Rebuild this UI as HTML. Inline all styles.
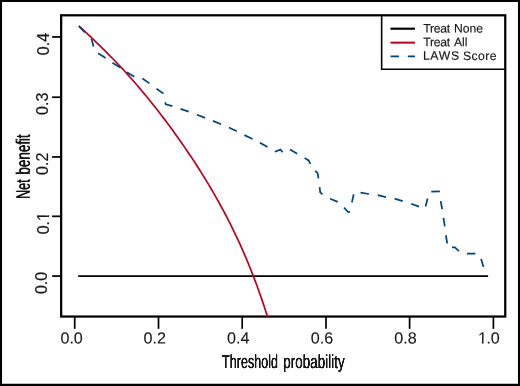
<!DOCTYPE html>
<html lang="en"><head><meta charset="utf-8"><title>Decision curve</title>
<style>
html,body{margin:0;padding:0;background:#fff}
svg{display:block;will-change:transform}
text{font-family:"Liberation Sans",Arial,Helvetica,sans-serif;fill:#1a1a1a}
</style></head><body>
<svg width="520" height="386" viewBox="0 0 520 386">
<defs><filter id="hb" x="-5%" y="-15%" width="110%" height="130%" color-interpolation-filters="sRGB"><feGaussianBlur stdDeviation="0.5 0"/><feComponentTransfer><feFuncA type="linear" slope="2" intercept="-0.12"/></feComponentTransfer></filter></defs>
<rect x="0" y="0" width="520" height="386" fill="#fff"/>
<!-- outer frame -->
<rect x="0" y="0" width="520" height="2" fill="#000"/>
<rect x="0" y="0" width="2.05" height="386" fill="#000"/>
<rect x="517.95" y="0" width="2.05" height="386" fill="#000"/>
<rect x="0" y="383.75" width="520" height="2.25" fill="#000"/>
<!-- plot box -->
<rect x="61.15" y="15.3" width="444.1" height="301.25" fill="none" stroke="#000" stroke-width="2.25"/>
<!-- curves -->
<line x1="78.2" y1="276.15" x2="488.1" y2="276.15" stroke="#000" stroke-width="1.8"/>
<clipPath id="pc"><rect x="61" y="15" width="444" height="302.25"/></clipPath>
<path d="M78.90,25.90 L81.31,28.11 L83.72,30.37 L86.13,32.64 L88.54,34.91 L90.94,37.19 L93.35,39.48 L95.76,41.79 L98.17,44.11 L100.58,46.45 L102.99,48.81 L105.40,51.19 L107.81,53.60 L110.22,56.03 L112.62,58.49 L115.03,60.98 L117.44,63.50 L119.85,66.05 L122.26,68.63 L124.67,71.24 L127.08,73.89 L129.49,76.56 L131.89,79.28 L134.30,82.02 L136.71,84.80 L139.12,87.61 L141.53,90.46 L143.94,93.34 L146.35,96.25 L148.76,99.20 L151.17,102.18 L153.57,105.20 L155.98,108.25 L158.39,111.34 L160.80,114.46 L163.21,117.61 L165.62,120.80 L168.03,124.02 L170.44,127.28 L172.85,130.58 L175.25,133.91 L177.66,137.28 L180.07,140.69 L182.48,144.14 L184.89,147.63 L187.30,151.16 L189.71,154.74 L192.12,158.36 L194.53,162.02 L196.93,165.74 L199.34,169.51 L201.75,173.33 L204.16,177.21 L206.57,181.15 L208.98,185.15 L211.39,189.22 L213.80,193.35 L216.21,197.57 L218.61,201.86 L221.02,206.24 L223.43,210.70 L225.84,215.26 L228.25,219.92 L230.66,224.69 L233.07,229.57 L235.48,234.57 L237.88,239.70 L240.29,244.96 L242.70,250.37 L245.11,255.92 L247.52,261.64 L249.93,267.53 L252.34,273.60 L254.75,279.85 L257.16,286.31 L259.56,292.99 L261.97,299.88 L264.38,307.02 L266.79,314.40 L269.20,322.04" fill="none" stroke="#BC0020" stroke-width="1.7" clip-path="url(#pc)"/>
<path d="M78.8,26.1 L84.8,32.3 M90.8,39.3 L91.8,39.8 L93.5,46.5 M98.1,53.3 L105.6,57.95 M112.4,62.8 L120.2,67.6 M126.9,72.3 L134.3,76.7 M142.4,78.5 L149.5,83.4 M156.5,88.75 L163.5,93.6 M165.1,102.4 L165.8,104.25 L172.4,106.05 M180.5,108.9 L188.7,111.65 M197,114.7 L205.1,117.9 M212.9,120.9 L221.1,124.2 M228.9,127.5 L236.8,131.2 M244.4,135.1 L252.6,139 M259.9,142.8 L267.5,147.05 M274.8,151.7 L280.5,149.6 L282.6,152.2 M290,149.4 L297.25,153.65 M304.6,158.1 L308.6,160.4 L310.4,163.9 M315.2,170.85 L317.65,173.2 L318.5,178.45 M319.6,187.1 L320.2,192.4 L322.5,194.4 M330.1,198.8 L337.75,201.85 M344,207.7 L348.4,212.3 L350,211.5 M351.9,202.4 L353.7,194.3 M360.5,192.6 L369,194 M377.8,195.2 L386,197.15 M394.6,198.6 L402.7,201.2 M411.2,203.7 L419.05,206.6 M425.6,206.4 L427.6,198.5 M431.3,191.7 L439.85,191.3 M440.65,201.1 L442.2,209.2 M443.45,217.95 L444.8,226.3 M445.9,235.25 L447.15,243.4 M452,247.4 L454.9,247.4 L459,251.2 M466.9,253.6 L475.3,253.6 M481.1,259 L483.5,267" fill="none" stroke="#00467F" stroke-width="1.75" stroke-linejoin="miter"/>
<!-- legend -->
<path d="M381.65,15.3 V69.3 H505.3" fill="none" stroke="#000" stroke-width="1.6"/>
<line x1="390.5" y1="28.7" x2="415" y2="28.7" stroke="#000" stroke-width="2.2"/>
<line x1="390.5" y1="42.65" x2="415" y2="42.65" stroke="#BC0020" stroke-width="2"/>
<path d="M390.5,56.35 H399 M407.8,56.35 H415" stroke="#00467F" stroke-width="1.75"/>
<g font-size="12.2" stroke="#1a1a1a" stroke-width="0.15">
<text transform="translate(423.2 32.5) rotate(0.05)"><tspan x="0" textLength="26.9" lengthAdjust="spacing">Treat</tspan> <tspan x="30.8">None</tspan></text>
<text transform="translate(423.2 46.3) rotate(0.05)"><tspan x="0" textLength="26.9" lengthAdjust="spacing">Treat</tspan> <tspan x="30.7">All</tspan></text>
<text transform="translate(422.9 59.85) rotate(0.05)"><tspan x="0" textLength="36.2" lengthAdjust="spacing">LAWS</tspan> <tspan x="40.05" textLength="33.5" lengthAdjust="spacing">Score</tspan></text>
</g>

<line x1="74.7" y1="317" x2="74.7" y2="328.85" stroke="#000" stroke-width="1.7"/>
<line x1="158.5" y1="317" x2="158.5" y2="328.85" stroke="#000" stroke-width="1.7"/>
<line x1="242.2" y1="317" x2="242.2" y2="328.85" stroke="#000" stroke-width="1.7"/>
<line x1="326.0" y1="317" x2="326.0" y2="328.85" stroke="#000" stroke-width="1.7"/>
<line x1="409.6" y1="317" x2="409.6" y2="328.85" stroke="#000" stroke-width="1.7"/>
<line x1="493.4" y1="317" x2="493.4" y2="328.85" stroke="#000" stroke-width="1.7"/>
<line x1="52.1" y1="276.07" x2="60.5" y2="276.07" stroke="#000" stroke-width="1.75"/>
<line x1="52.1" y1="216.32" x2="60.5" y2="216.32" stroke="#000" stroke-width="1.75"/>
<line x1="52.1" y1="156.97" x2="60.5" y2="156.97" stroke="#000" stroke-width="1.75"/>
<line x1="52.1" y1="97.22" x2="60.5" y2="97.22" stroke="#000" stroke-width="1.75"/>
<line x1="52.1" y1="36.97" x2="60.5" y2="36.97" stroke="#000" stroke-width="1.75"/>
<text transform="translate(60.40 343.6) rotate(0.05)" font-size="16.15" stroke="#1a1a1a" stroke-width="0.12">0.0</text>
<text transform="translate(143.60 343.6) rotate(0.05)" font-size="16.15" stroke="#1a1a1a" stroke-width="0.12">0.2</text>
<text transform="translate(227.10 343.6) rotate(0.05)" font-size="16.15" stroke="#1a1a1a" stroke-width="0.12">0.4</text>
<text transform="translate(310.80 343.6) rotate(0.05)" font-size="16.15" stroke="#1a1a1a" stroke-width="0.12">0.6</text>
<text transform="translate(394.30 343.6) rotate(0.05)" font-size="16.15" stroke="#1a1a1a" stroke-width="0.12">0.8</text>
<text transform="translate(477.30 343.6) rotate(0.05)" font-size="16.15" stroke="#1a1a1a" stroke-width="0.12" dx="0.8 -0.7">1.0</text>
<rect x="476.3" y="341.7" width="5.5" height="4" fill="#fff"/><rect x="483.65" y="341.7" width="3.4" height="4" fill="#fff"/>
<text transform="translate(46.75 294.1) rotate(-90)" font-size="16" stroke="#1a1a1a" stroke-width="0.2">0.0</text>
<text transform="translate(48.95 234.3) rotate(-90)" font-size="16" stroke="#1a1a1a" stroke-width="0.2">0.1</text>
<text transform="translate(47.55 174.9) rotate(-90)" font-size="16" stroke="#1a1a1a" stroke-width="0.2">0.2</text>
<text transform="translate(47.85 114.9) rotate(-90)" font-size="16" stroke="#1a1a1a" stroke-width="0.2">0.3</text>
<text transform="translate(49.45 55.2) rotate(-90)" font-size="16" stroke="#1a1a1a" stroke-width="0.2">0.4</text>
<rect x="46.3" y="210.5" width="4.2" height="4.85" fill="#fff"/><rect x="46.3" y="216.95" width="4.2" height="3.6" fill="#fff"/>
<text transform="translate(221.9 368.0) rotate(0.05) scale(0.7 1)" font-size="19.0" fill="#111" stroke="#111" stroke-width="0.05" vector-effect="non-scaling-stroke" stroke-linejoin="round" filter="url(#hb)" style="text-rendering:geometricPrecision"><tspan x="0" textLength="80.00" lengthAdjust="spacingAndGlyphs">Threshold</tspan> <tspan x="87.43" textLength="87.86" lengthAdjust="spacingAndGlyphs">probability</tspan></text>
<text transform="translate(29.75 198.8) rotate(-90) scale(0.7 1)" font-size="19.6" fill="#111" stroke="#111" stroke-width="0.05" vector-effect="non-scaling-stroke" stroke-linejoin="round" filter="url(#hb)" style="text-rendering:geometricPrecision"><tspan x="0" textLength="28.00" lengthAdjust="spacingAndGlyphs">Net</tspan> <tspan x="34.79" textLength="57.43" lengthAdjust="spacingAndGlyphs">benefit</tspan></text>
</svg></body></html>
